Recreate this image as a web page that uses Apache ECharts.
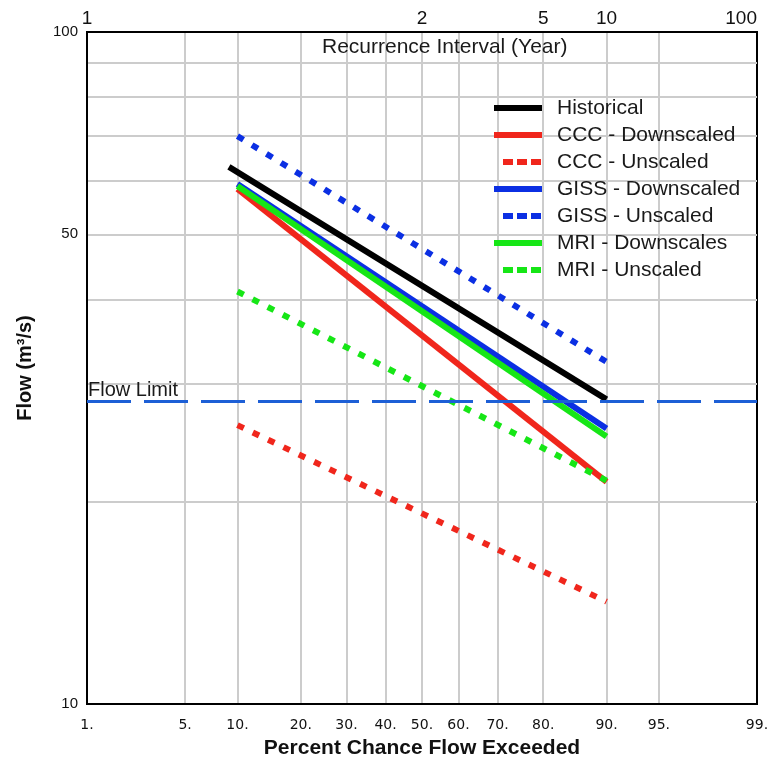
<!DOCTYPE html>
<html>
<head>
<meta charset="utf-8">
<script src="https://cdn.jsdelivr.net/npm/echarts@6/dist/echarts.min.js"></script>
<style>html,body{margin:0;padding:0;background:#fff}#chart{width:775px;height:768px}</style>
</head>
<body>
<div id="chart"></div>
<script>
// ---- data ----
const percentTicks = [1, 5, 10, 20, 30, 40, 50, 60, 70, 80, 90, 95, 99];
const recurrenceLabels = ['1', '2', '5', '10', '100'];
const recurrencePercents = [1, 50, 80, 90, 99];
const flowGrid = [20, 30, 40, 50, 60, 70, 80, 90];
const flowLabels = [10, 50, 100];
const flowLimit = 28.3;

const seriesNames = ['Historical', 'CCC - Downscaled', 'CCC - Unscaled', 'GISS - Downscaled', 'GISS - Unscaled', 'MRI - Downscales', 'MRI - Unscaled'];
const historicalPct = [9, 90];
const historicalFlow = [63.0, 28.4];
const cccDownPct = [10, 90];
const cccDownFlow = [58.4, 21.4];
const cccUnPct = [10, 90];
const cccUnFlow = [26.0, 14.2];
const gissDownPct = [10, 90];
const gissDownFlow = [59.4, 25.7];
const gissUnPct = [10, 90];
const gissUnFlow = [70.0, 32.3];
const mriDownPct = [10, 90];
const mriDownFlow = [59.0, 25.0];
const mriUnPct = [10, 90];
const mriUnFlow = [41.1, 21.5];

// ---- normal probability transform ----
function normInv(p) {
  const a = [-3.969683028665376e+01, 2.209460984245205e+02, -2.759285104469687e+02, 1.383577518672690e+02, -3.066479806614716e+01, 2.506628277459239e+00];
  const b = [-5.447609879822406e+01, 1.615858368580409e+02, -1.556989798598866e+02, 6.680131188771972e+01, -1.328068155288572e+01];
  const c = [-7.784894002430293e-03, -3.223964580411365e-01, -2.400758277161838e+00, -2.549732539343734e+00, 4.374664141464968e+00, 2.938163982698783e+00];
  const d = [7.784695709041462e-03, 3.224671290700398e-01, 2.445134137142996e+00, 3.754408661907416e+00];
  const plow = 0.02425, phigh = 1 - plow;
  let q, r;
  if (p < plow) {
    q = Math.sqrt(-2 * Math.log(p));
    return (((((c[0]*q+c[1])*q+c[2])*q+c[3])*q+c[4])*q+c[5]) / ((((d[0]*q+d[1])*q+d[2])*q+d[3])*q+1);
  }
  if (p <= phigh) {
    q = p - 0.5; r = q*q;
    return (((((a[0]*r+a[1])*r+a[2])*r+a[3])*r+a[4])*r+a[5])*q / (((((b[0]*r+b[1])*r+b[2])*r+b[3])*r+b[4])*r+1);
  }
  q = Math.sqrt(-2 * Math.log(1 - p));
  return -(((((c[0]*q+c[1])*q+c[2])*q+c[3])*q+c[4])*q+c[5]) / ((((d[0]*q+d[1])*q+d[2])*q+d[3])*q+1);
}
const zOf = p => normInv(p / 100);
const zTicks = percentTicks.map(zOf);
const zMin = zTicks[0], zMax = zTicks[zTicks.length - 1];
const zRec = recurrencePercents.map(zOf);

function nearestIdx(arr, v) {
  let bi = 0, bd = Infinity;
  arr.forEach((x, i) => { const dd = Math.abs(x - v); if (dd < bd) { bd = dd; bi = i; } });
  return bi;
}
const toPts = (pct, flow) => pct.map((p, i) => [zOf(p), Math.log10(flow[i])]);

const FONT = "'Liberation Sans', Arial, sans-serif";
const RED = '#f0261c', BLUE = '#0b2fe3', GREEN = '#16e616';
const defs = [
  { pct: historicalPct, flow: historicalFlow, color: '#000000', dash: false },
  { pct: cccDownPct, flow: cccDownFlow, color: RED, dash: false },
  { pct: cccUnPct, flow: cccUnFlow, color: RED, dash: true },
  { pct: gissDownPct, flow: gissDownFlow, color: BLUE, dash: false },
  { pct: gissUnPct, flow: gissUnFlow, color: BLUE, dash: true },
  { pct: mriDownPct, flow: mriDownFlow, color: GREEN, dash: false },
  { pct: mriUnPct, flow: mriUnFlow, color: GREEN, dash: true }
];
const dashIcon = 'path://M0,3L0.001,3Z M8,0h10v6h-10z M22,0h10v6h-10z M36,0h10v6h-10z';

const series = defs.map((d, i) => ({
  name: seriesNames[i],
  type: 'line',
  data: toPts(d.pct, d.flow),
  symbol: 'none',
  color: d.color,
  itemStyle: { color: d.color },
  lineStyle: { color: d.color, width: 6, type: d.dash ? [7, 10] : 'solid', cap: 'butt' },
  silent: true,
  z: 3
}));
series.push({
  name: 'Flow Limit',
  type: 'line',
  data: [],
  z: 4,
  markLine: {
    silent: true,
    symbol: 'none',
    animation: false,
    lineStyle: { color: '#1d5fd6', width: 3, type: [44, 13] },
    label: {
      show: true, position: 'insideStartTop', formatter: 'Flow Limit', distance: 1,
      color: '#1a1a1a', fontSize: 20, fontFamily: FONT
    },
    data: [{ yAxis: Math.log10(flowLimit) }]
  }
});

const chart = echarts.init(document.getElementById('chart'), null, { renderer: 'canvas' });
chart.setOption({
  animation: false,
  backgroundColor: '#ffffff',
  grid: { left: 87, right: 18, top: 32, bottom: 64, show: true, borderColor: '#000', borderWidth: 2, backgroundColor: 'transparent' },
  xAxis: [
    {
      type: 'value', position: 'bottom', min: zMin, max: zMax,
      axisLine: { show: true, onZero: false, lineStyle: { color: '#000', width: 2 } },
      axisTick: { show: false, customValues: zTicks.slice(1, -1) },
      splitLine: { show: true, lineStyle: { color: '#cccccc', width: 2 } },
      axisLabel: {
        customValues: zTicks, margin: 14, color: '#111', fontSize: 14, fontFamily: "'DejaVu Sans', Verdana, sans-serif",
        formatter: v => percentTicks[nearestIdx(zTicks, v)] + '.'
      },
      name: 'Percent Chance Flow Exceeded', nameLocation: 'middle', nameGap: 34,
      nameTextStyle: { fontSize: 21, fontWeight: 'bold', color: '#111', fontFamily: FONT }
    },
    {
      type: 'value', position: 'top', min: zMin, max: zMax,
      axisLine: { show: true, onZero: false, lineStyle: { color: '#000', width: 2 } },
      axisTick: { show: false },
      splitLine: { show: false },
      axisLabel: {
        customValues: zRec, margin: 4, color: '#111', fontSize: 19, fontFamily: FONT, alignMaxLabel: 'right',
        formatter: v => recurrenceLabels[nearestIdx(zRec, v)]
      }
    }
  ],
  yAxis: {
    type: 'value', min: 1, max: 2,
    axisLine: { show: true, onZero: false, lineStyle: { color: '#000', width: 2 } },
    axisTick: { show: false, customValues: flowGrid.map(Math.log10) },
    splitLine: { show: true, lineStyle: { color: '#cccccc', width: 2 } },
    axisLabel: {
      customValues: flowLabels.map(Math.log10), margin: 9, color: '#111', fontSize: 15, fontFamily: FONT,
      formatter: v => String(flowLabels[nearestIdx(flowLabels.map(Math.log10), v)])
    },
    name: 'Flow (m³/s)', nameLocation: 'middle', nameGap: 52,
    nameTextStyle: { fontSize: 20, fontWeight: 'bold', color: '#111', fontFamily: FONT }
  },
  legend: {
    orient: 'vertical', left: 494, top: 97, padding: 0,
    itemWidth: 48, itemHeight: 6, itemGap: 5,
    itemStyle: { borderWidth: 0 },
    textStyle: { fontSize: 21, color: '#1a1a1a', fontFamily: FONT, lineHeight: 22, padding: [0, 0, 0, 10] },
    selectedMode: false,
    data: seriesNames.map((n, i) => ({ name: n, icon: defs[i].dash ? dashIcon : 'rect' }))
  },
  graphic: [{
    type: 'text', left: 322, top: 37, silent: true, z: 100, zlevel: 0,
    style: { text: 'Recurrence Interval (Year)', fontSize: 21, fill: '#1a1a1a', fontFamily: FONT }
  }],
  series: series
});
</script>
</body>
</html>
